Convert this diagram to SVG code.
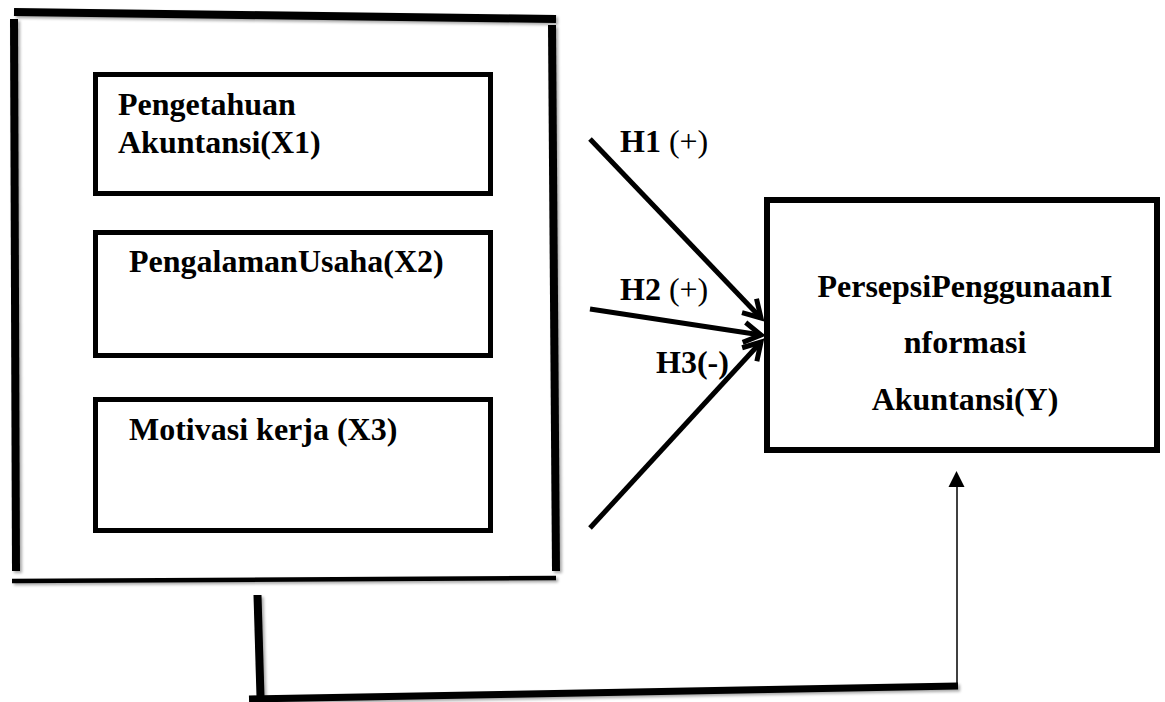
<svg xmlns="http://www.w3.org/2000/svg" width="1165" height="702" viewBox="0 0 1165 702">
<defs>
<style>
.t{font-family:"Liberation Serif","Times New Roman",serif;font-weight:bold;font-size:32px;fill:#000}
.n{font-weight:normal}
.box{fill:#fff;stroke:#000;stroke-width:5}
.thick{stroke:#000;fill:none;stroke-linecap:butt}
.arr{stroke:#000;stroke-width:5;fill:none}
</style>
<marker id="open" markerUnits="userSpaceOnUse" markerWidth="40" markerHeight="40" refX="0" refY="0" viewBox="-25 -20 40 40" orient="auto">
<path d="M-17,-10 L0,0 L-17,10" fill="none" stroke="#000" stroke-width="5" stroke-linejoin="miter"/>
</marker>
<marker id="tri" markerUnits="userSpaceOnUse" markerWidth="20" markerHeight="20" refX="0" refY="0" viewBox="-16 -10 20 20" orient="auto">
<path d="M-15,-8 L0,0 L-15,8 Z" fill="#000"/>
</marker>
<filter id="sh" x="-5%" y="-5%" width="110%" height="120%">
<feGaussianBlur in="SourceAlpha" stdDeviation="1.5"/>
<feOffset dx="1.5" dy="2" result="b"/>
<feComponentTransfer><feFuncA type="linear" slope="0.35"/></feComponentTransfer>
<feMerge><feMergeNode/><feMergeNode in="SourceGraphic"/></feMerge>
</filter>
</defs>
<rect width="1165" height="702" fill="#fff"/>
<g id="frame" filter="url(#sh)">
<line class="thick" x1="14" y1="12" x2="556" y2="19" stroke-width="8"/>
<line class="thick" x1="14" y1="19" x2="16" y2="571" stroke-width="8"/>
<line class="thick" x1="552" y1="25" x2="556" y2="571" stroke-width="8"/>
<line class="thick" x1="12" y1="581" x2="556" y2="578" stroke-width="4.5"/>
</g>
<g id="x1">
<rect class="box" x="95.5" y="74.5" width="395" height="119"/>
<text class="t" x="118" y="115">Pengetahuan</text>
<text class="t" x="118" y="153">Akuntansi(X1)</text>
</g>
<g id="x2">
<rect class="box" x="95.5" y="232.5" width="395" height="123"/>
<text class="t" x="129" y="272">PengalamanUsaha(X2)</text>
</g>
<g id="x3">
<rect class="box" x="95.5" y="399.5" width="395" height="131"/>
<text class="t" x="129" y="440">Motivasi kerja (X3)</text>
</g>
<g id="y">
<rect x="767" y="200" width="390" height="250" fill="#fff" stroke="#000" stroke-width="6"/>
<text class="t" x="965" y="297" text-anchor="middle">PersepsiPenggunaanI</text>
<text class="t" x="965" y="353" text-anchor="middle">nformasi</text>
<text class="t" x="965" y="410" text-anchor="middle">Akuntansi(Y)</text>
</g>
<g id="connectors">
<line class="arr" x1="590" y1="139" x2="761" y2="318" marker-end="url(#open)"/>
<line class="arr" x1="590" y1="309" x2="761" y2="335" marker-end="url(#open)"/>
<line class="arr" x1="590" y1="528" x2="761" y2="342" marker-end="url(#open)"/>
<g filter="url(#sh)">
<line class="thick" x1="257.5" y1="595" x2="260.5" y2="697" stroke-width="8"/>
<line class="thick" x1="249" y1="699" x2="958" y2="686" stroke-width="7"/>
</g>
<line x1="957" y1="686" x2="957" y2="487" stroke="#000" stroke-width="1.5"/>
<path d="M956.5,471 L948.5,487 L964.5,487 Z" fill="#000"/>
</g>
<g id="labels">
<text class="t" x="620" y="152">H1 <tspan class="n">(+)</tspan></text>
<text class="t" x="620" y="300">H2 <tspan class="n">(+)</tspan></text>
<text class="t" x="656" y="373">H3(-)</text>
</g>
</svg>
